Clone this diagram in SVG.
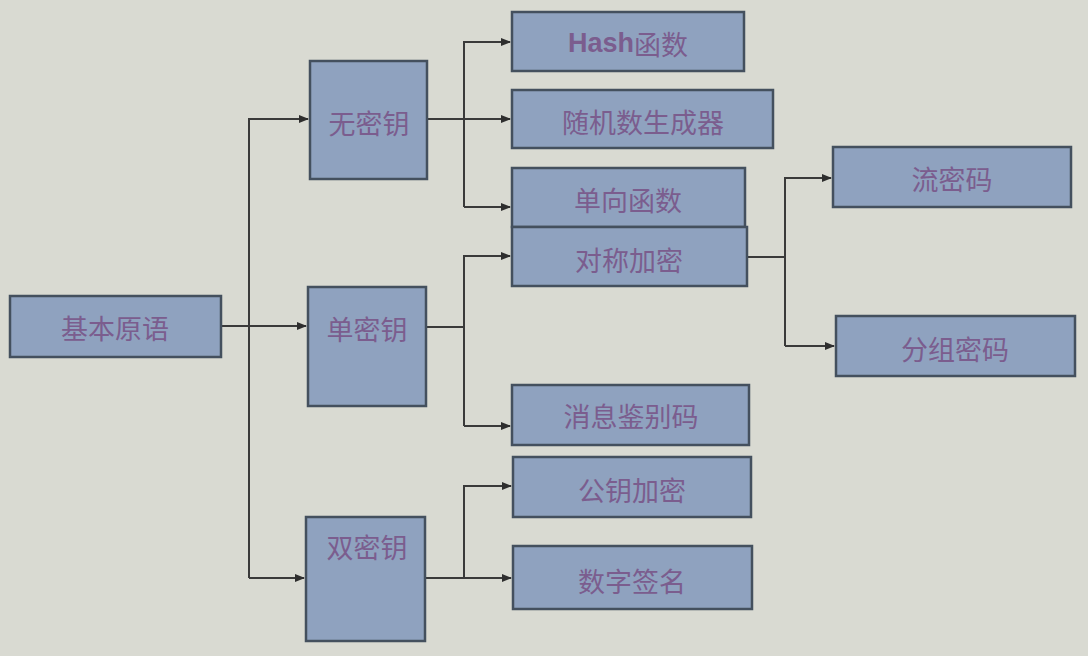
<svg xmlns="http://www.w3.org/2000/svg" width="1088" height="656" viewBox="0 0 1088 656">
<defs>
<marker id="ah" markerWidth="10" markerHeight="8" refX="9" refY="4" orient="auto" markerUnits="userSpaceOnUse">
<path d="M0,0 L10,4 L0,8 Z" fill="#2e2e2e"/>
</marker>
<style>
.box{fill:#8fa2bf;stroke:#44505e;stroke-width:2.5}
.t{font-family:"Noto Sans CJK SC","Liberation Serif",serif;font-size:27px;fill:#7b5d8e;text-anchor:middle;dominant-baseline:central}
.b{font-family:"Liberation Sans",sans-serif;font-weight:bold}
.c{fill:none;stroke:#3a3a3a;stroke-width:2}
</style>
</defs>
<rect width="1088" height="656" fill="#d9dad2"/>
<g id="connectors">
<path class="c" d="M221,326 H306" marker-end="url(#ah)"/>
<path class="c" d="M249,578 V119 H308" marker-end="url(#ah)"/>
<path class="c" d="M249,578 H304" marker-end="url(#ah)"/>
<path class="c" d="M427,119 H510" marker-end="url(#ah)"/>
<path class="c" d="M464,207 V42 H510" marker-end="url(#ah)"/>
<path class="c" d="M464,207 H510" marker-end="url(#ah)"/>
<path class="c" d="M426,327 H464"/>
<path class="c" d="M464,426 V256 H510" marker-end="url(#ah)"/>
<path class="c" d="M464,426 H510" marker-end="url(#ah)"/>
<path class="c" d="M425,578 H511" marker-end="url(#ah)"/>
<path class="c" d="M464,578 V486 H511" marker-end="url(#ah)"/>
<path class="c" d="M747,257 H785"/>
<path class="c" d="M785,346 V178 H831" marker-end="url(#ah)"/>
<path class="c" d="M785,346 H834" marker-end="url(#ah)"/>
</g>
<g id="n-root"><rect class="box" x="10" y="296" width="211" height="61"/><text class="t" x="115" y="327">基本原语</text></g>
<g id="n-nokey"><rect class="box" x="310" y="61" width="117" height="118"/><text class="t" x="369" y="122">无密钥</text></g>
<g id="n-onekey"><rect class="box" x="308" y="287" width="118" height="119"/><text class="t" x="367" y="328">单密钥</text></g>
<g id="n-twokey"><rect class="box" x="306" y="517" width="119" height="124"/><text class="t" x="367" y="546">双密钥</text></g>
<g id="n-hash"><rect class="box" x="512" y="12" width="232" height="59"/><text class="t" x="628" y="43"><tspan class="b">Hash</tspan>函数</text></g>
<g id="n-rng"><rect class="box" x="512" y="90" width="261" height="58"/><text class="t" x="643" y="121">随机数生成器</text></g>
<g id="n-owf"><rect class="box" x="512" y="168" width="233" height="59"/><text class="t" x="628" y="199">单向函数</text></g>
<g id="n-sym"><rect class="box" x="512" y="227" width="235" height="59"/><text class="t" x="629" y="259">对称加密</text></g>
<g id="n-mac"><rect class="box" x="512" y="385" width="237" height="60"/><text class="t" x="631" y="415">消息鉴别码</text></g>
<g id="n-pke"><rect class="box" x="513" y="457" width="238" height="60"/><text class="t" x="632" y="489">公钥加密</text></g>
<g id="n-sig"><rect class="box" x="513" y="546" width="239" height="63"/><text class="t" x="632" y="580">数字签名</text></g>
<g id="n-stream"><rect class="box" x="833" y="147" width="238" height="60"/><text class="t" x="952" y="178">流密码</text></g>
<g id="n-block"><rect class="box" x="836" y="316" width="239" height="60"/><text class="t" x="955" y="348">分组密码</text></g>
</svg>
